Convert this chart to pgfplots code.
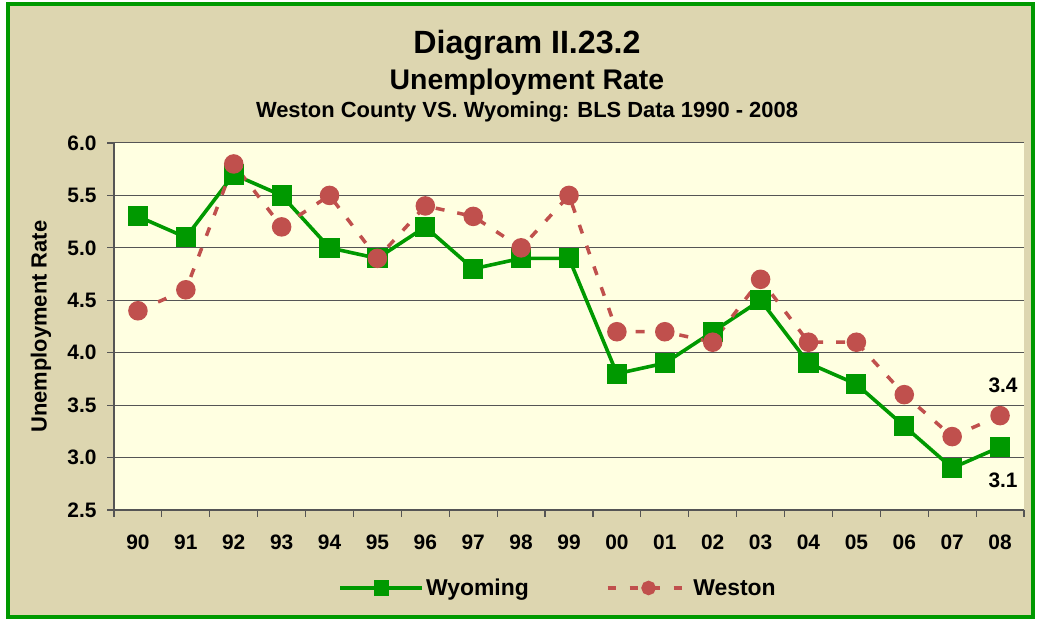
\documentclass[border=0pt]{standalone}
\usepackage{pgfplots}
\pgfplotsset{compat=1.18}
\usepackage{fontspec}
\setmainfont{Liberation Sans}
\definecolor{tanbg}{HTML}{DDD6B0}
\definecolor{plotbg}{HTML}{FFFFE1}
\definecolor{wyo}{HTML}{009900}
\definecolor{wes}{HTML}{C0504D}
\definecolor{gridc}{HTML}{555555}
\begin{document}
\begin{tikzpicture}[x=1bp,y=1bp]
\useasboundingbox (0,0) rectangle (1037,621);
\fill[white] (0,0) rectangle (1037,621);
\draw[wyo, line width=4bp, fill=tanbg] (8,4) rectangle (1033,617);
\node[anchor=base, font=\fontsize{32.3}{36}\selectfont\bfseries] at (527,567) {Diagram II.23.2};
\node[anchor=base, font=\fontsize{28.5}{32}\selectfont\bfseries] at (527,531) {Unemployment Rate};
\node[anchor=base, font=\fontsize{22}{26}\selectfont\bfseries] at (527,503) {Weston County VS. Wyoming: BLS Data 1990 - 2008};
\begin{axis}[
  at={(114bp,111bp)}, anchor=south west,
  width=910bp, height=367bp, scale only axis,
  xmin=-0.5, xmax=18.5, ymin=2.5, ymax=6.0,
  axis x line=bottom, axis y line=left,
  axis line style={-, gridc, line width=1.2bp},
  axis background/.style={fill=plotbg},
  xtick={0,...,18},
  xticklabels={90,91,92,93,94,95,96,97,98,99,00,01,02,03,04,05,06,07,08},
  minor xtick={-0.5,0.5,...,18.5},
  ytick={2.5,3.0,...,6.0},
  tick align=outside,
  major tick length=7bp, minor tick length=7bp,
  x tick style={draw=none},
  minor x tick style={draw=gridc, line width=1.2bp},
  y tick style={draw=gridc, line width=1.2bp},
  ymajorgrids, major grid style={gridc, line width=1bp},
  /pgf/number format/assume math mode=true,
  y tick label style={/pgf/number format/fixed, /pgf/number format/fixed zerofill, /pgf/number format/precision=1, xshift=-7bp},
  ticklabel style={font=\fontsize{21}{24}\selectfont\bfseries},
  x tick label style={yshift=-14bp},
  ylabel={Unemployment Rate},
  ylabel style={font=\fontsize{22}{26}\selectfont\bfseries, at={(axis description cs:-0.0802,0.5)}, anchor=center},
  legend style={at={(0.488,-0.2125)}, anchor=center, draw=none, fill=none,
    font=\fontsize{23}{27}\selectfont\bfseries, legend columns=2,
    /tikz/every even column/.append style={column sep=75bp}},
  legend image code/.code={\draw[#1, mark repeat=2, mark phase=2] plot coordinates {(0bp,0bp) (41bp,0bp) (82bp,0bp)};},
  clip=false,
]
\addplot[wyo, line width=3.6bp, mark=square*, mark size=8.3bp, mark options={solid}, forget plot] coordinates {
(0,5.3) (1,5.1) (2,5.7) (3,5.5) (4,5.0) (5,4.9) (6,5.2) (7,4.8) (8,4.9) (9,4.9)
(10,3.8) (11,3.9) (12,4.2) (13,4.5) (14,3.9) (15,3.7) (16,3.3) (17,2.9) (18,3.1)};
\addplot[wes, line width=3.5bp, dash pattern=on 9bp off 13bp, mark=*, mark size=8bp, mark options={solid, wes}, forget plot] coordinates {
(0,4.4) (1,4.6) (2,5.8) (3,5.2) (4,5.5) (5,4.9) (6,5.4) (7,5.3) (8,5.0) (9,5.5)
(10,4.2) (11,4.2) (12,4.1) (13,4.7) (14,4.1) (15,4.1) (16,3.6) (17,3.2) (18,3.4)};
\addplot[draw=none, no marks, nodes near coords={3.4}, every node near coord/.style={anchor=base, yshift=23bp, xshift=3bp, font=\fontsize{21}{24}\selectfont\bfseries, text=black}, forget plot] coordinates {(18,3.4)};
\addplot[draw=none, no marks, nodes near coords={3.1}, every node near coord/.style={anchor=base, yshift=-40bp, xshift=3bp, font=\fontsize{21}{24}\selectfont\bfseries, text=black}, forget plot] coordinates {(18,3.1)};
\addlegendimage{wyo, line width=3.6bp, mark=square*, mark size=6bp, mark options={solid}}
\addlegendentry{Wyoming}
\addlegendimage{wes, line width=3.5bp, dash pattern=on 8bp off 14bp, mark=*, mark size=5.5bp, mark options={solid}}
\addlegendentry{Weston}
\end{axis}
\end{tikzpicture}
\end{document}
